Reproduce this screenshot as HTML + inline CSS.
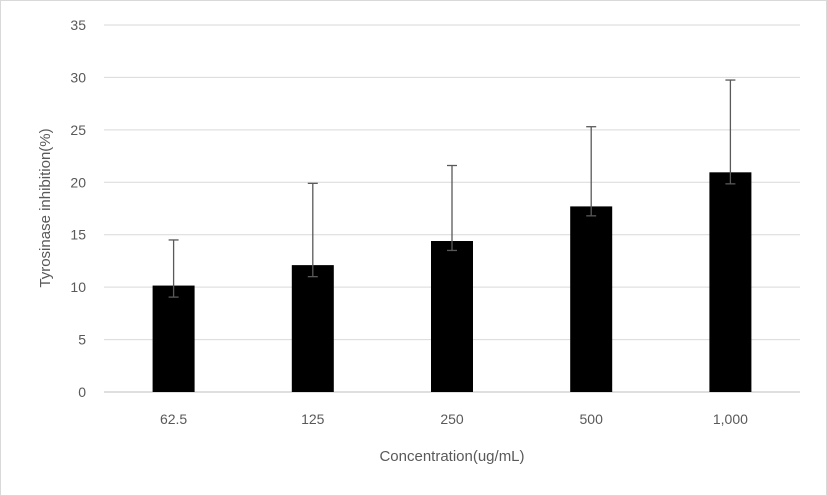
<!DOCTYPE html>
<html><head><meta charset="utf-8"><style>
body{margin:0;background:#fff;}
svg{display:block;font-family:"Liberation Sans",sans-serif;}
</style></head><body>
<svg width="827" height="496">
<rect x="0.5" y="0.5" width="826" height="495" fill="#fff" stroke="#d9d9d9"/>
<g id="grid"></g><g id="bars"></g><g id="errs"></g><g id="labels"></g>
<text x="452" y="461" text-anchor="middle" font-size="15" fill="#595959">Concentration(ug/mL)</text>
<text transform="translate(50,208) rotate(-90)" text-anchor="middle" font-size="15" fill="#595959">Tyrosinase inhibition(%)</text>
</svg>
<script>
const categories=["62.5","125","250","500","1,000"];
const values=[10.15,12.1,14.4,17.7,20.95];
const errUp=[4.35,7.8,7.2,7.6,8.8];
const errDown=[1.1,1.1,0.9,0.9,1.1];
const yTicks=[0,5,10,15,20,25,30,35];
const NS="http://www.w3.org/2000/svg";
const x0=104,x1=800,y0=392,y1=25,yMax=35;
const y=v=>y0-(v/yMax)*(y0-y1);
const step=(x1-x0)/categories.length;
const xc=i=>x0+step*(i+0.5);
function mk(tag,attrs,parent,txt){const e=document.createElementNS(NS,tag);for(const k in attrs)e.setAttribute(k,attrs[k]);if(txt!==undefined)e.textContent=txt;document.getElementById(parent).appendChild(e);return e;}
yTicks.forEach(t=>{
 const l=mk('line',{x1:x0,x2:x1,y1:y(t),y2:y(t),stroke:t===0?'#bfbfbf':'#d9d9d9','stroke-width':1},'grid');
 
 
 const tx=mk('text',{x:86,y:y(t)+5,'text-anchor':'end','font-size':14,fill:'#595959'},'labels',String(t));
 
 
});
categories.forEach((c,i)=>{
 const bw=42,cx=xc(i);
 const r=mk('rect',{x:cx-bw/2,y:y(values[i]),width:bw,height:y(0)-y(values[i]),fill:'#000'},'bars');
 
 
 const top=y(values[i]+errUp[i]),bot=y(values[i]-errDown[i]);
 const g=mk('g',{stroke:'#595959','stroke-width':1.3},'errs');
 
 
 [[cx,top,cx,bot],[cx-5,top,cx+5,top],[cx-5,bot,cx+5,bot]].forEach(a=>{const l=document.createElementNS(NS,'line');l.setAttribute('x1',a[0]);l.setAttribute('y1',a[1]);l.setAttribute('x2',a[2]);l.setAttribute('y2',a[3]);g.appendChild(l);});
 const tx=mk('text',{x:cx,y:424,'text-anchor':'middle','font-size':14,fill:'#595959'},'labels',c);
 
 
});
</script>
</body></html>
